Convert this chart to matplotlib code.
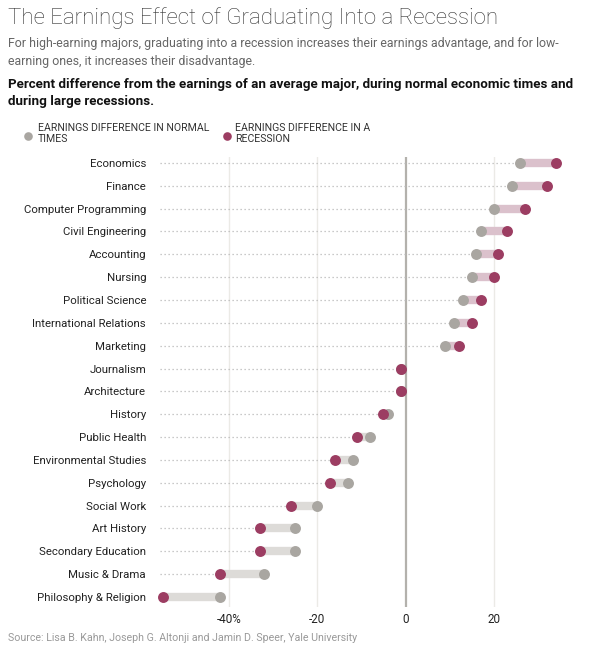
import matplotlib
matplotlib.use("Agg")
import matplotlib.pyplot as plt
from matplotlib.lines import Line2D

majors = ["Economics", "Finance", "Computer Programming", "Civil Engineering",
          "Accounting", "Nursing", "Political Science", "International Relations",
          "Marketing", "Journalism", "Architecture", "History", "Public Health",
          "Environmental Studies", "Psychology", "Social Work", "Art History",
          "Secondary Education", "Music & Drama", "Philosophy & Religion"]
normal = [26, 24, 20, 17, 16, 15, 13, 11, 9, -1, -1, -4, -8, -12, -13, -20,
          -25, -25, -32, -42]
recession = [34, 32, 27, 23, 21, 20, 17, 15, 12, -1, -1, -5, -11, -16, -17,
             -26, -33, -33, -42, -55]
xticks = [-40, -20, 0, 20]
xticklabels = ["-40%", "-20", "0", "20"]

RED = "#9c3d62"
GRAY = "#a9a6a1"
PINK_BAR = "#dbc1cc"
GRAY_BAR = "#dddbd8"

plt.rcParams["font.family"] = ["Roboto", "DejaVu Sans"]

W, H = 599, 657
fig = plt.figure(figsize=(W / 100, H / 100), dpi=100)
ax = fig.add_axes([160 / W, 50 / H, 405 / W, 450 / H])

xmin, xmax = -55.6, 36.1
ax.set_xlim(xmin, xmax)
ax.set_ylim(19.44, -0.26)

for x in xticks:
    ax.axvline(x, color="#b3b1ac" if x == 0 else "#ebeae6",
               lw=1.6 if x == 0 else 1.0, zorder=0)

for i, (n, r) in enumerate(zip(normal, recession)):
    lo = min(n, r)
    ax.plot([xmin, lo], [i, i], color="#b8b8b8", lw=0.9,
            linestyle=(0, (1, 2.2)), zorder=1)
    ax.plot([n, r], [i, i], color=PINK_BAR if r > n else GRAY_BAR,
            lw=6, solid_capstyle="butt", zorder=2)

ys = list(range(len(majors)))
ax.scatter(normal, ys, s=62, color=GRAY, zorder=3, clip_on=False, linewidths=0)
ax.scatter(recession, ys, s=62, color=RED, zorder=4, clip_on=False, linewidths=0)

ax.set_yticks(ys)
ax.set_yticklabels(majors, fontsize=8.2, color="#222222")
ax.set_xticks(xticks)
ax.set_xticklabels(xticklabels, fontsize=8.4, color="#222222")
ax.tick_params(length=0)
ax.tick_params(axis="y", pad=10)
ax.tick_params(axis="x", pad=4)
for s in ax.spines.values():
    s.set_visible(False)

fig.text(8 / W, 1 - 18 / H, "The Earnings Effect of Graduating Into a Recession",
         fontsize=16, fontweight="light", color="#333333", va="center")
fig.text(8 / W, 1 - 53 / H,
         "For high-earning majors, graduating into a recession increases their earnings advantage, and for low-\n"
         "earning ones, it increases their disadvantage.",
         fontsize=8.9, color="#666666", va="center", linespacing=1.5)
fig.text(8 / W, 1 - 93 / H,
         "Percent difference from the earnings of an average major, during normal economic times and\n"
         "during large recessions.",
         fontsize=9.6, fontweight="bold", color="#111111", va="center", linespacing=1.35)

fig.text(38 / W, 1 - 133.5 / H, "EARNINGS DIFFERENCE IN NORMAL\nTIMES",
         fontsize=7.6, color="#333333", va="center", linespacing=1.15)
fig.text(235 / W, 1 - 133.5 / H, "EARNINGS DIFFERENCE IN A\nRECESSION",
         fontsize=7.6, color="#333333", va="center", linespacing=1.15)
for px, c in [(28, GRAY), (227, RED)]:
    fig.add_artist(Line2D([px / W], [1 - 136 / H], marker="o", markersize=6.2,
                          color=c, markeredgewidth=0, transform=fig.transFigure))

fig.text(8 / W, 1 - 638 / H,
         "Source: Lisa B. Kahn, Joseph G. Altonji and Jamin D. Speer, Yale University",
         fontsize=7.7, color="#999999", va="center")

fig.savefig("out.png", dpi=100)
